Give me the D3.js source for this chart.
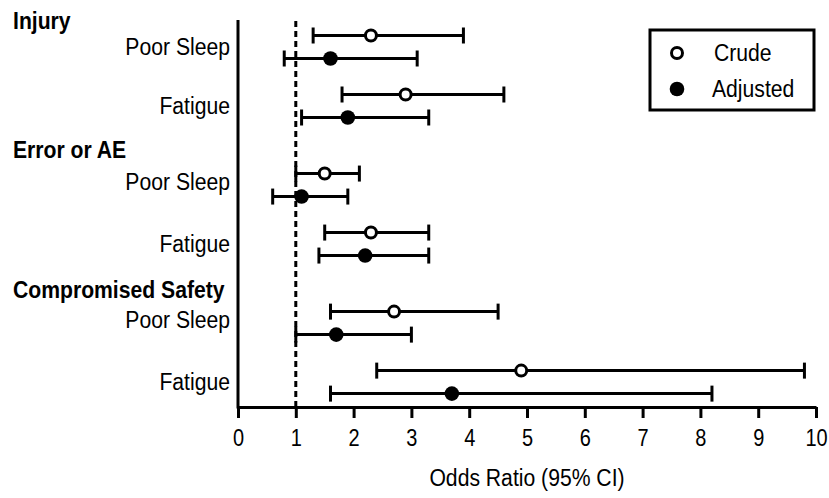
<!DOCTYPE html>
<html lang="en">
<head>
    <meta charset="UTF-8">
    <title>Odds Ratio Forest Plot</title>
    <style>
        body {
            margin: 0;
            background-color: #ffffff;
            font-family: "Liberation Sans", Arial, sans-serif;
        }
        text {
            fill: #000;
        }
    </style>
</head>
<body>
    <svg id="chart"></svg>

    <script src="https://d3js.org/d3.v7.min.js"></script>
    <script>
        // Outcome groups and exposures (one row per exposure within each group)
        const groups = ['Injury', 'Error or AE', 'Compromised Safety'];
        const exposures = ['Poor Sleep', 'Fatigue'];

        // Crude odds ratios (row order: Injury PS, Injury F, Error PS, Error F, CS PS, CS F)
        const crudeOR = [2.3, 2.9, 1.5, 2.3, 2.7, 4.9];
        const crudeLo = [1.3, 1.8, 1.0, 1.5, 1.6, 2.4];
        const crudeHi = [3.9, 4.6, 2.1, 3.3, 4.5, 9.8];

        // Adjusted odds ratios
        const adjOR = [1.6, 1.9, 1.1, 2.2, 1.7, 3.7];
        const adjLo = [0.8, 1.1, 0.6, 1.4, 1.0, 1.6];
        const adjHi = [3.1, 3.3, 1.9, 3.3, 3.0, 8.2];

        const xTicks = [0, 1, 2, 3, 4, 5, 6, 7, 8, 9, 10];
        const refLine = 1;
        const seriesNames = ['Crude', 'Adjusted'];

        const width = 829;
        const height = 498;
        const margin = { top: 20, right: 13, bottom: 91, left: 238 };
        const axisY = height - margin.bottom;
        const fontSize = '23.5px';

        const svg = d3.select('#chart')
            .attr('width', width)
            .attr('height', height);

        // the original uses a narrow sans; squeeze text horizontally
        function squeeze(sel, k = 0.9) {
            sel.each(function () {
                const len = this.getComputedTextLength();
                d3.select(this)
                    .attr('textLength', len * k)
                    .attr('lengthAdjust', 'spacingAndGlyphs');
            });
        }

        const x = d3.scaleLinear()
            .domain([0, 10])
            .range([margin.left, width - margin.right]);

        // each row sits on a slot; groups are separated by an extra gap
        const groupGap = 0.34;
        const y = d3.scaleLinear()
            .domain([0, 1])
            .range([47, 106]);

        const rows = [];
        groups.forEach((g, gi) => {
            exposures.forEach((e, ei) => {
                const i = gi * exposures.length + ei;
                rows.push({
                    group: g, gi, exposure: e, i,
                    slot: i + gi * groupGap,
                    crude: { or: crudeOR[i], lo: crudeLo[i], hi: crudeHi[i] },
                    adj: { or: adjOR[i], lo: adjLo[i], hi: adjHi[i] }
                });
            });
        });

        const offset = 11.5;
        const capH = 8;

        // reference line at OR = 1
        svg.append('line')
            .attr('x1', x(refLine)).attr('x2', x(refLine))
            .attr('y1', margin.top + 1).attr('y2', axisY)
            .attr('stroke', '#000')
            .attr('stroke-width', 3)
            .attr('stroke-dasharray', '6,4');

        // axes
        const xAxis = d3.axisBottom(x)
            .tickValues(xTicks)
            .tickFormat(d3.format('d'))
            .tickSize(11)
            .tickSizeOuter(0);

        const gx = svg.append('g')
            .attr('transform', `translate(0,${axisY})`)
            .call(xAxis);
        gx.select('.domain').attr('stroke-width', 3).attr('stroke', '#000');
        gx.selectAll('.tick line').attr('stroke-width', 3).attr('stroke', '#000');
        gx.selectAll('.tick text')
            .attr('y', 31)
            .attr('dy', '0.35em')
            .style('font-size', fontSize)
            .style('font-family', '"Liberation Sans", Arial, sans-serif')
            .call(squeeze, 0.85);

        svg.append('line')
            .attr('x1', margin.left).attr('x2', margin.left)
            .attr('y1', margin.top).attr('y2', axisY + 1.5)
            .attr('stroke', '#000')
            .attr('stroke-width', 3);

        svg.append('text')
            .attr('x', (x(0) + x(10)) / 2)
            .attr('y', 478)
            .attr('dy', '0.35em')
            .attr('text-anchor', 'middle')
            .style('font-size', fontSize)
            .text('Odds Ratio (95% CI)')
            .call(squeeze);

        // row labels
        svg.selectAll('.row-label')
            .data(rows)
            .enter()
            .append('text')
            .attr('class', 'row-label')
            .attr('x', 230)
            .attr('y', d => y(d.slot) - (d.gi > 0 && d.exposure === 'Poor Sleep' ? 3 : 0))
            .attr('dy', '0.35em')
            .attr('text-anchor', 'end')
            .style('font-size', fontSize)
            .text(d => d.exposure)
            .call(squeeze);

        // group headers
        const headerY = [21, 150, 290];
        svg.selectAll('.group-label')
            .data(groups)
            .enter()
            .append('text')
            .attr('class', 'group-label')
            .attr('x', 13)
            .attr('y', (d, i) => headerY[i])
            .attr('dy', '0.35em')
            .style('font-size', fontSize)
            .style('font-weight', 'bold')
            .text(d => d)
            .call(squeeze);

        // error bars + points
        const series = [
            { key: 'crude', dy: -offset },
            { key: 'adj', dy: offset }
        ];

        series.forEach(s => {
            const g = svg.append('g').attr('class', 'series-' + s.key);
            const bars = g.selectAll('.bar')
                .data(rows)
                .enter()
                .append('g')
                .attr('transform', d => `translate(0,${y(d.slot) + s.dy})`);

            bars.append('line')
                .attr('x1', d => x(d[s.key].lo))
                .attr('x2', d => x(d[s.key].hi))
                .attr('stroke', '#000')
                .attr('stroke-width', 3);

            ['lo', 'hi'].forEach(k => {
                bars.append('line')
                    .attr('x1', d => x(d[s.key][k]))
                    .attr('x2', d => x(d[s.key][k]))
                    .attr('y1', -capH).attr('y2', capH)
                    .attr('stroke', '#000')
                    .attr('stroke-width', 3);
            });

            bars.append('circle')
                .attr('cx', d => x(d[s.key].or))
                .attr('r', s.key === 'crude' ? 5.5 : 7.3)
                .attr('fill', s.key === 'crude' ? '#fff' : '#000')
                .attr('stroke', '#000')
                .attr('stroke-width', s.key === 'crude' ? 3 : 0);
        });

        // legend
        const legend = svg.append('g').attr('transform', 'translate(650,30)');
        legend.append('rect')
            .attr('width', 164).attr('height', 80)
            .attr('fill', '#fff')
            .attr('stroke', '#000')
            .attr('stroke-width', 3);

        const items = legend.selectAll('.legend-item')
            .data(seriesNames)
            .enter()
            .append('g')
            .attr('transform', (d, i) => `translate(27,${23 + i * 36})`);

        items.append('circle')
            .attr('r', (d, i) => i === 0 ? 5.5 : 7.3)
            .attr('fill', (d, i) => i === 0 ? '#fff' : '#000')
            .attr('stroke', '#000')
            .attr('stroke-width', (d, i) => i === 0 ? 3 : 0);

        items.append('text')
            .attr('x', (d, i) => i === 0 ? 37 : 35)
            .attr('dy', '0.35em')
            .style('font-size', fontSize)
            .text(d => d)
            .call(squeeze);
    </script>
</body>
</html>
